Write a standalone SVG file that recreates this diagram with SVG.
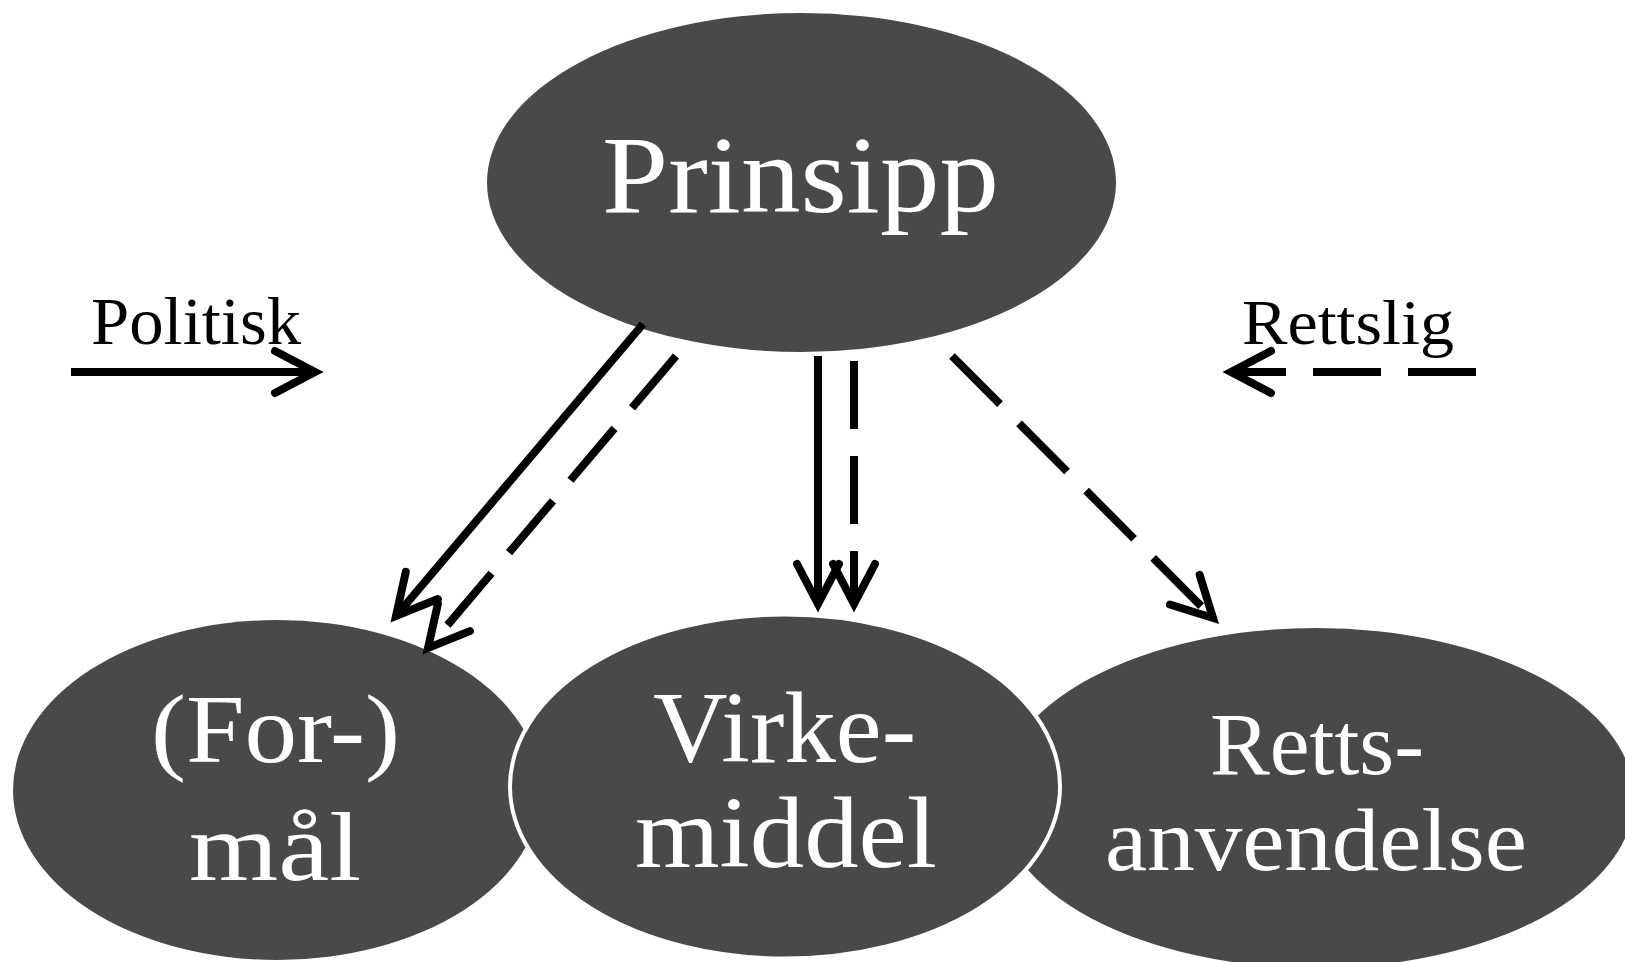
<svg xmlns="http://www.w3.org/2000/svg" width="1625" height="962" viewBox="0 0 1625 962">
<style>
.node{fill:#494949}
.lbl{font-family:"Liberation Serif","Times New Roman",serif;fill:#fff;text-anchor:middle}
.cap{font-family:"Liberation Serif","Times New Roman",serif;fill:#000;text-anchor:middle}
.ln{fill:none;stroke:#000;stroke-width:8;stroke-linecap:butt}
.dash{stroke-dasharray:68 27}
</style>
<defs>
<marker id="arr" markerUnits="userSpaceOnUse" orient="auto" refX="0" refY="0" markerWidth="60" markerHeight="60" overflow="visible">
<path d="M -40 -21 L 0 0 L -40 21" fill="none" stroke="#000" stroke-width="8" stroke-linecap="round" stroke-linejoin="miter" stroke-miterlimit="10"/>
</marker>
</defs>
<rect width="1625" height="962" fill="#fff"/>
<g id="node-formal">
<ellipse class="node" cx="277" cy="790" rx="264" ry="170"/>
<text class="lbl" x="275.5" y="762" font-size="98" textLength="249" lengthAdjust="spacingAndGlyphs">(For-)</text>
<text class="lbl" x="275" y="880" font-size="98" textLength="172" lengthAdjust="spacingAndGlyphs">mål</text>
</g>
<g id="node-rettsanvendelse">
<ellipse class="node" cx="1316" cy="798" rx="318" ry="170"/>
<text class="lbl" x="1317" y="774" font-size="89" textLength="214" lengthAdjust="spacingAndGlyphs">Retts-</text>
<text class="lbl" x="1316" y="870" font-size="89" textLength="422" lengthAdjust="spacingAndGlyphs">anvendelse</text>
</g>
<g id="node-virkemiddel">
<ellipse class="node" cx="785" cy="786.5" rx="275" ry="172" stroke="#fff" stroke-width="4"/>
<text class="lbl" x="784.5" y="762" font-size="101" textLength="263" lengthAdjust="spacingAndGlyphs">Virke-</text>
<text class="lbl" x="786" y="867" font-size="101" textLength="302" lengthAdjust="spacingAndGlyphs">middel</text>
</g>
<g id="node-prinsipp">
<ellipse class="node" cx="801.5" cy="182.5" rx="314.5" ry="169.5"/>
<text class="lbl" x="800.5" y="212" font-size="110" textLength="397" lengthAdjust="spacingAndGlyphs">Prinsipp</text>
</g>
<g id="legend">
<text class="cap" x="196" y="344" font-size="67" textLength="210" lengthAdjust="spacingAndGlyphs">Politisk</text>
<text class="cap" x="1348" y="344" font-size="64" textLength="212" lengthAdjust="spacingAndGlyphs">Rettslig</text>
<line class="ln" x1="71" y1="372" x2="315" y2="372" marker-end="url(#arr)"/>
<line class="ln dash" x1="1476" y1="372" x2="1231" y2="372" marker-end="url(#arr)"/>
</g>
<g id="connectors">
<line class="ln" x1="643" y1="324" x2="396" y2="616" marker-end="url(#arr)"/>
<line class="ln dash" x1="676" y1="356" x2="428" y2="648" marker-end="url(#arr)"/>
<line class="ln" x1="818" y1="356" x2="818" y2="604" marker-end="url(#arr)"/>
<line class="ln dash" x1="854" y1="361" x2="854" y2="604" marker-end="url(#arr)"/>
<line class="ln dash" x1="952" y1="356" x2="1213" y2="618" marker-end="url(#arr)"/>
</g>
</svg>
